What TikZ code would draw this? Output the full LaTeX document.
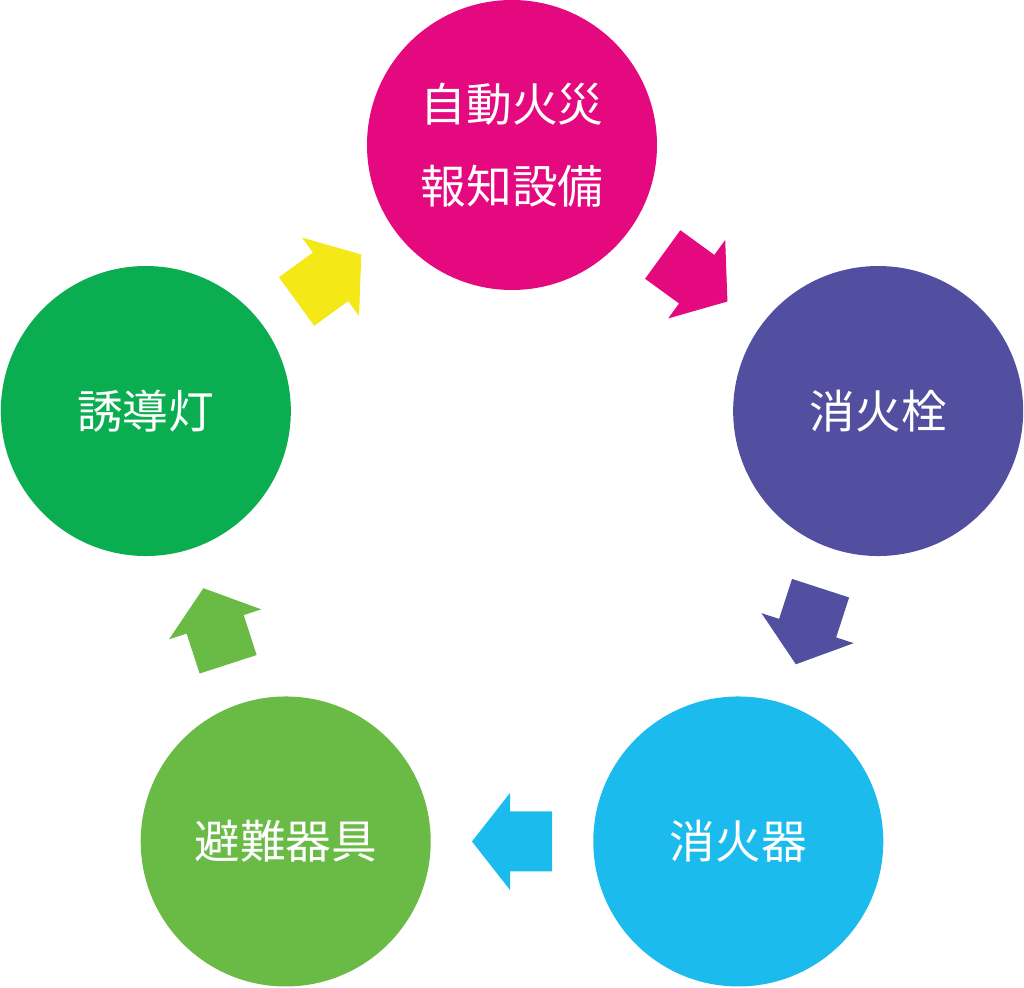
\documentclass[tikz,border=0pt]{standalone}
\usepackage{fontspec}
\newfontfamily\jpfont{Noto Sans CJK JP}
\usetikzlibrary{calc}

\definecolor{alarmcol}{HTML}{E5097F}
\definecolor{hydrantcol}{HTML}{524FA1}
\definecolor{extcol}{HTML}{1CBBEE}
\definecolor{escapecol}{HTML}{6ABB46}
\definecolor{exitcol}{HTML}{0AAD4F}
\definecolor{signcol}{HTML}{F4E816}

\tikzset{
    blockarrow/.pic={
        \fill[pic actions] (-0.8,-0.6) -- (0.04,-0.6) -- (0.04,-0.97) -- (0.8,0)
            -- (0.04,0.97) -- (0.04,0.6) -- (-0.8,0.6) -- cycle;
    }
}

\begin{document}
\begin{tikzpicture}[
    unit/.style={circle, minimum size=5.8cm, inner sep=0pt, align=center, text=white,
        font=\jpfont\fontsize{26}{47}\selectfont}
]
\useasboundingbox (0,0) rectangle (20.48,19.76);
\coordinate (hub) at (10.24,9.16);

% Circles
\node[unit, fill=alarmcol] (alarm) at ($(hub)+(90:7.7)$) {自動火災\\報知設備};
\node[unit, fill=hydrantcol] (hydrant) at ($(hub)+(18:7.7)$) {消火栓};
\node[unit, fill=extcol] (extinguisher) at ($(hub)+(-54:7.7)$) {消火器};
\node[unit, fill=escapecol] (escape) at ($(hub)+(-126:7.7)$) {避難器具};
\node[unit, fill=exitcol] (exitlight) at ($(hub)+(162:7.7)$) {誘導灯};

% Arrows
\pic[fill=alarmcol, rotate=-36] (a1) at ($(alarm)!0.5!(hydrant)$) {blockarrow};
\pic[fill=hydrantcol, rotate=-108] (a2) at ($(hydrant)!0.5!(extinguisher)$) {blockarrow};
\pic[fill=extcol, rotate=180] (a3) at ($(extinguisher)!0.5!(escape)$) {blockarrow};
\pic[fill=escapecol, rotate=108] (a4) at ($(escape)!0.5!(exitlight)$) {blockarrow};
\pic[fill=signcol, rotate=36] (a5) at ($(exitlight)!0.5!(alarm)$) {blockarrow};

\end{tikzpicture}
\end{document}
